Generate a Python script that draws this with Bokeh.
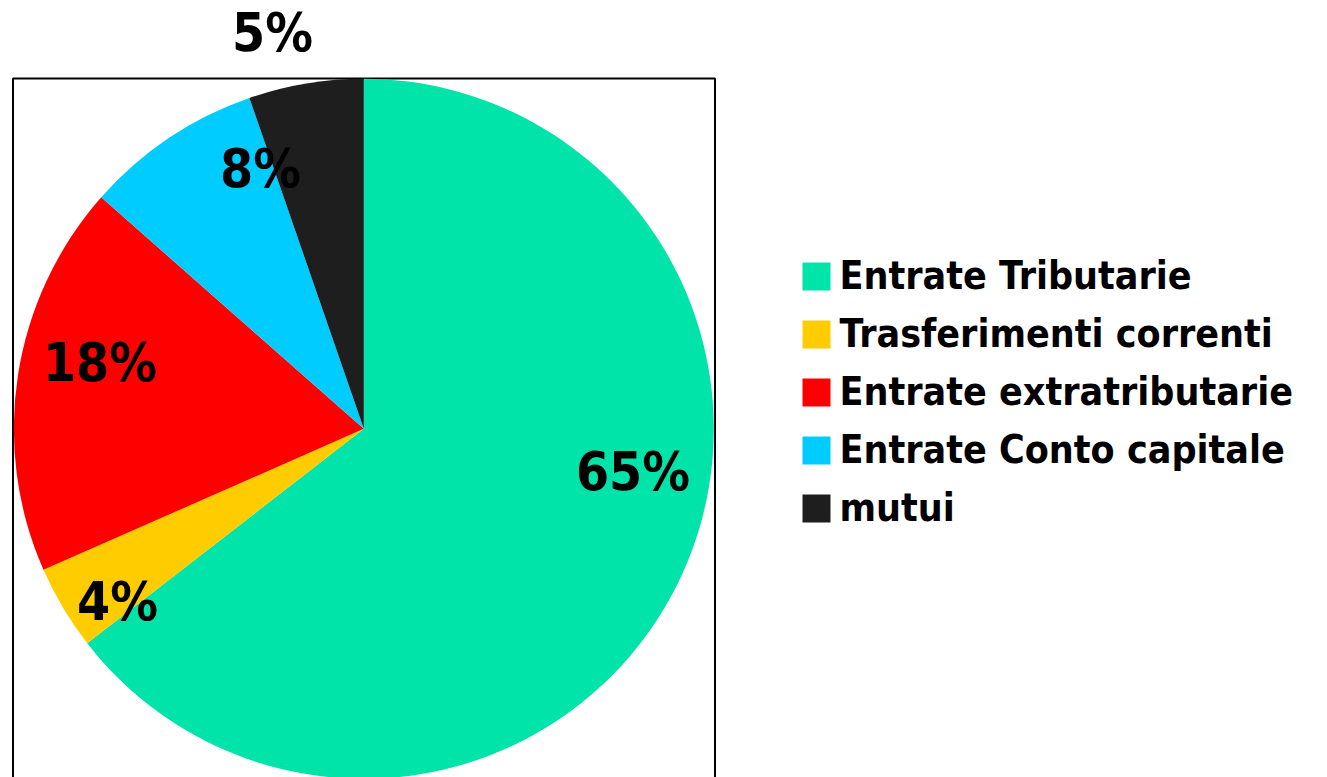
import math
from bokeh.plotting import figure
from bokeh.models import Range1d, ColumnDataSource
from bokeh.embed import file_html
from bokeh.resources import INLINE
from bokeh.core.properties import value

# ---- data ----
categories = ["Entrate Tributarie", "Trasferimenti correnti", "Entrate extratributarie",
              "Entrate Conto capitale", "mutui"]
shares = [64.5, 3.9, 18.1, 8.2, 5.3]
colors = ["#00E3A9", "#FFCC00", "#FF0000", "#00CCFF", "#1E1E1E"]

# ---- layout (screen-pixel helpers) ----
W, H = 1327, 777
def X(sx): return sx
def Y(sy): return H - sy

FONT = "DejaVu Sans Condensed"
LBL_SIZE, LEG_SIZE = 53, 39
cx, cy, R = X(363.3), Y(428.3), 350
label_pos = [(632.5, 492), (117, 622), (99.5, 383), (260, 189), (272, 53)]
lbl_fix = 0.39 * LBL_SIZE
leg_fix = 0.39 * LEG_SIZE

total = sum(shares)
starts, ends, acc = [], [], 0.0
for v in shares:
    a0 = acc / total
    acc += v
    a1 = acc / total
    starts.append(math.pi / 2 - 2 * math.pi * a1)
    ends.append(math.pi / 2 - 2 * math.pi * a0)
labels = [f"{int(v / total * 100 + 0.5)}%" for v in shares]

p = figure(width=W, height=H, x_range=Range1d(0, W), y_range=Range1d(0, H),
           output_backend="svg", toolbar_location=None, min_border=0,
           x_axis_location=None, y_axis_location=None, outline_line_color=None,
           background_fill_color="white", border_fill_color="white")
p.grid.visible = False

# plot-area frame
p.quad(left=[X(12.5)], right=[X(714.5)], top=[Y(78)], bottom=[-30],
       fill_color=None, line_color="black", line_width=2)

src = ColumnDataSource(dict(start=starts, end=ends, color=colors, cat=categories))
p.wedge(x=cx, y=cy, radius=R, start_angle="start", end_angle="end",
        fill_color="color", line_color=None, source=src)

lsrc = ColumnDataSource(dict(x=[X(a) for a, b in label_pos],
                             y=[Y(b - lbl_fix) for a, b in label_pos], t=labels))
p.text(x="x", y="y", text="t", source=lsrc, text_font=value(FONT), text_font_style="bold",
       text_font_size=f"{LBL_SIZE}px", text_align="center", text_baseline="alphabetic",
       text_color="black")

# legend
n = len(categories)
sq_left, sq_size, sq_top0, step = 802, 28, 262, 58
p.quad(left=[X(sq_left)] * n, right=[X(sq_left + sq_size)] * n,
       top=[Y(sq_top0 + step * i) for i in range(n)],
       bottom=[Y(sq_top0 + sq_size + step * i) for i in range(n)],
       fill_color=colors, line_color=None)
p.text(x=[X(839)] * n, y=[Y(290 + step * i - leg_fix) for i in range(n)], text=categories,
       text_font=value(FONT), text_font_style="bold", text_font_size=f"{LEG_SIZE}px",
       text_align="left", text_baseline="alphabetic", text_color="black")

open("out.html", "w").write(file_html(p, INLINE))
